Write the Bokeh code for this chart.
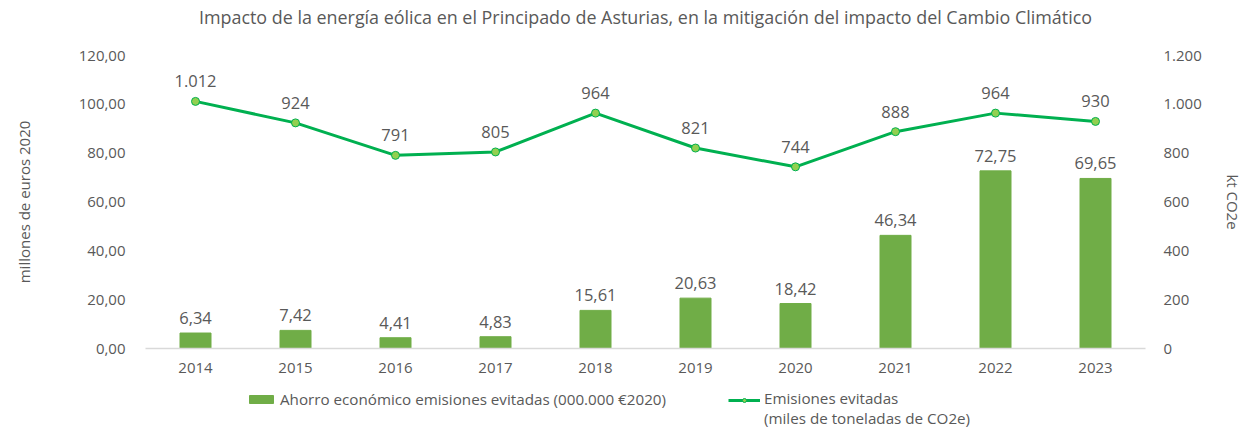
from bokeh.plotting import figure
from bokeh.layouts import column
from bokeh.models import (Range1d, LinearAxis, FactorRange, ColumnDataSource, Legend,
                          LegendItem, CustomJSTickFormatter, FixedTicker, Title)
from bokeh.embed import file_html
from bokeh.resources import INLINE
from bokeh.core.properties import value

years = ["2014", "2015", "2016", "2017", "2018", "2019", "2020", "2021", "2022", "2023"]
ahorro = [6.34, 7.42, 4.41, 4.83, 15.61, 20.63, 18.42, 46.34, 72.75, 69.65]
emisiones = [1012, 924, 791, 805, 964, 821, 744, 888, 964, 930]
left_ticks = [0, 20, 40, 60, 80, 100, 120]
right_ticks = [0, 200, 400, 600, 800, 1000, 1200]

TITLE = "Impacto de la energía eólica en el Principado de Asturias, en la mitigación del impacto del Cambio Climático"
LBL_BAR = "Ahorro económico emisiones evitadas (000.000 €2020)"
LBL_LINE = "Emisiones evitadas\n(miles de toneladas de CO2e)"

FONT = "Open Sans"
GREY = "#595959"
BAR_COLOR = "#70AD47"
LINE_COLOR = "#00B050"
MARKER_FILL = "#92D050"


def es_dec(v):
    return f"{v:.2f}".replace(".", ",")


def es_int(v):
    return f"{v:,}".replace(",", ".")


src = ColumnDataSource(dict(
    year=years, ahorro=ahorro, emis=emisiones,
    ahorro_lbl=[es_dec(v) for v in ahorro],
    emis_lbl=[es_int(v) for v in emisiones],
))

p = figure(x_range=FactorRange(*years), y_range=Range1d(0, 120),
           frame_width=1000, frame_height=293,
           min_border_left=145, min_border_right=95, min_border_top=55, min_border_bottom=36,
           output_backend="svg", toolbar_location=None, title=TITLE)
p.extra_y_ranges = {"kt": Range1d(0, 1200)}

p.title.text_font = FONT
p.title.text_font_size = "17.9px"
p.title.text_font_style = "normal"
p.title.text_color = GREY
p.title.align = "center"
p.title.offset = -8
p.title.standoff = 4
# spacer between title and plot area
p.add_layout(Title(text=" ", text_font_size="1px", standoff=22), "above")

p.xgrid.visible = False
p.ygrid.visible = False
p.outline_line_color = None
p.background_fill_color = "white"
p.border_fill_color = "white"

# left axis
ya = p.yaxis[0]
ya.ticker = FixedTicker(ticks=left_ticks)
ya.formatter = CustomJSTickFormatter(code="return tick.toFixed(2).replace('.', ',');")
ya.axis_line_color = None
ya.major_tick_line_color = None
ya.minor_tick_line_color = None
ya.major_tick_out = 0
ya.major_tick_in = 0
ya.major_label_standoff = 20
ya.major_label_text_font = FONT
ya.major_label_text_font_size = "15px"
ya.major_label_text_color = GREY
ya.axis_label = "millones de euros 2020"
ya.axis_label_standoff = 42
ya.axis_label_text_font = FONT
ya.axis_label_text_font_size = "15px"
ya.axis_label_text_font_style = "normal"
ya.axis_label_text_color = GREY

# right axis
ra = LinearAxis(y_range_name="kt", ticker=FixedTicker(ticks=right_ticks),
                formatter=CustomJSTickFormatter(code=r"""
var s = Math.round(tick).toString();
return s.replace(/\B(?=(\d{3})+(?!\d))/g, '.');
"""))
ra.axis_line_color = None
ra.major_tick_line_color = None
ra.minor_tick_line_color = None
ra.major_tick_out = 0
ra.major_tick_in = 0
ra.major_label_standoff = 18
ra.major_label_text_font = FONT
ra.major_label_text_font_size = "15px"
ra.major_label_text_color = GREY
ra.axis_label = "kt CO2e"
ra.axis_label_standoff = 18
ra.axis_label_text_font = FONT
ra.axis_label_text_font_size = "15px"
ra.axis_label_text_font_style = "normal"
ra.axis_label_text_color = GREY
p.add_layout(ra, "right")

# x axis
xa = p.xaxis[0]
xa.axis_line_color = "#D9D9D9"
xa.axis_line_width = 1.5
xa.major_tick_line_color = None
xa.minor_tick_line_color = None
xa.major_tick_out = 0
xa.major_tick_in = 0
xa.major_label_standoff = 14
xa.major_label_text_font = FONT
xa.major_label_text_font_size = "15px"
xa.major_label_text_color = GREY

p.vbar(x="year", top="ahorro", width=0.31, source=src,
       fill_color=BAR_COLOR, line_color=BAR_COLOR)
p.line(x="year", y="emis", y_range_name="kt", source=src,
       line_color=LINE_COLOR, line_width=3)
p.scatter(x="year", y="emis", y_range_name="kt", source=src, size=8,
          fill_color=MARKER_FILL, line_color=LINE_COLOR, line_width=1)

p.text(x="year", y="ahorro", text="ahorro_lbl", source=src,
       text_align="center", text_baseline="bottom", y_offset=-9,
       text_font=value(FONT), text_font_size="16.5px", text_color=GREY)
p.text(x="year", y="emis", text="emis_lbl", source=src, y_range_name="kt",
       text_align="center", text_baseline="bottom", y_offset=-14,
       text_font=value(FONT), text_font_size="16.5px", text_color=GREY)

# legend strip below the chart; its proxy glyphs use the same data, kept far outside its view
pl = figure(width=1240, height=44, x_range=FactorRange(*years), y_range=Range1d(50000, 60000),
            x_axis_location=None, y_axis_location=None, min_border=0,
            output_backend="svg", toolbar_location=None)
pl.xgrid.visible = False
pl.ygrid.visible = False
pl.outline_line_color = None
lb = pl.vbar(x="year", top="ahorro", width=0.31, source=src,
             fill_color=BAR_COLOR, line_color=BAR_COLOR)
ll = pl.line(x="year", y="emis", source=src, line_color=LINE_COLOR, line_width=3)
lp = pl.scatter(x="year", y="emis", source=src, size=8,
                fill_color=MARKER_FILL, line_color=LINE_COLOR, line_width=1)
lnone = pl.line(x="year", y="emis", source=src, line_alpha=0)


def style_legend(lg, gw):
    lg.padding = 0
    lg.margin = 0
    lg.border_line_color = None
    lg.background_fill_alpha = 0
    lg.label_text_font = FONT
    lg.label_text_font_size = "15.2px"
    lg.label_text_line_height = 0.95
    lg.label_text_color = GREY
    lg.label_standoff = 4
    lg.spacing = 0
    lg.glyph_height = 10
    lg.label_height = 10
    lg.glyph_width = gw


leg1 = Legend(items=[LegendItem(label=LBL_BAR, renderers=[lb])], location=(101, 19))
style_legend(leg1, 30)
# line + marker symbol, level with the first line of its label
leg2g = Legend(items=[LegendItem(label=" ", renderers=[ll, lp])], location=(583, 23))
style_legend(leg2g, 32)
# two-line label of the line series
leg2t = Legend(items=[LegendItem(label=LBL_LINE, renderers=[lnone])], location=(583, 0))
style_legend(leg2t, 32)
pl.add_layout(leg1)
pl.add_layout(leg2g)
pl.add_layout(leg2t)

layout = column(p, pl, spacing=0)
open("out.html", "w").write(file_html(layout, INLINE))
